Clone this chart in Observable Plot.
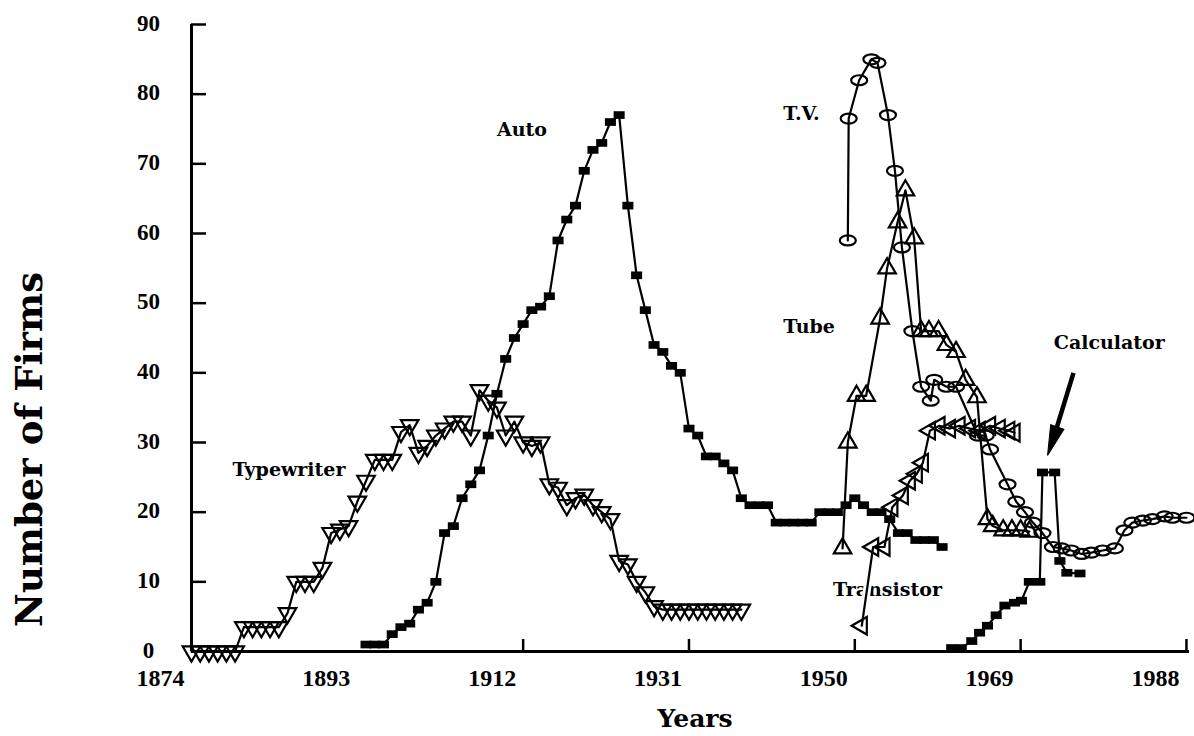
<!DOCTYPE html>
<html><head><meta charset="utf-8">
<script src="https://cdn.jsdelivr.net/npm/d3@7"></script>
<script src="https://cdn.jsdelivr.net/npm/@observablehq/plot@0.6"></script>
<style>
html,body{margin:0;padding:0;background:#fff;}
#chart{width:1194px;height:736px;}
</style>
</head><body><div id="chart"></div>
<script>
// ---------- data ----------
const typewriterYears = [1874,1875,1876,1877,1878,1879,1880,1881,1882,1883,1884,1885,1886,1887,1888,1889,1890,1891,1892,1893,1894,1895,1896,1897,1898,1899,1900,1901,1902,1903,1904,1905,1906,1907,1908,1909,1910,1911,1912,1913,1914,1915,1916,1917,1918,1919,1920,1921,1922,1923,1924,1925,1926,1927,1928,1929,1930,1931,1932,1933,1934,1935,1936,1937];
const typewriterFirms = [0,0,0,0,0,0,3.5,3.5,3.5,3.5,3.5,5.5,10,10,10,12,17,17.5,18,21.5,24.5,27.5,27.5,27.5,31.5,32.5,28.5,29.5,31,32,33,33,31,37.5,36,35,31,33,30,29.5,30,24,23.5,21,22,22.5,21,20,19,13,12.5,10,8.5,6.5,6,6,6,6,6,6,6,6,6,6];

const autoYears = [1894,1895,1896,1897,1898,1899,1900,1901,1902,1903,1904,1905,1906,1907,1908,1909,1910,1911,1912,1913,1914,1915,1916,1917,1918,1919,1920,1921,1922,1923,1924,1925,1926,1927,1928,1929,1930,1931,1932,1933,1934,1935,1936,1937,1938,1939,1940,1941,1942,1943,1944,1945,1946,1947,1948,1949,1950,1951,1952,1953,1954,1955,1956,1957,1958,1959,1960];
const autoFirms = [1,1,1,2.5,3.5,4,6,7,10,17,18,22,24,26,31,37,42,45,47,49,49.5,51,59,62,64,69,72,73,76,77,64,54,49,44,43,41,40,32,31,28,28,27,26,22,21,21,21,18.5,18.5,18.5,18.5,18.5,20,20,20,21,22,21,20,20,19,17,17,16,16,16,15];

const tvYears = [1949.2,1949.3,1950.5,1951.9,1952.6,1953.8,1954.6,1955.4,1956.6,1957.6,1958.7,1959.1,1960.5,1961.6,1964.1,1965.0,1965.5,1967.5,1968.5,1969.5,1970.4,1971.5,1972.7,1973.7,1974.8,1976.0,1977.1,1978.4,1979.8,1980.9,1981.8,1983.0,1984.1,1985.5,1986.4,1988.0];
const tvFirms = [59,76.5,82,85,84.5,77,69,58,46,38,36,39,38,38,31,31,29,24,21.5,20,18.5,17,15,14.8,14.5,14,14.2,14.5,14.8,17.4,18.5,18.8,19,19.4,19.2,19.2];

const tubeYears = [1948.6,1949.2,1950.2,1951.3,1952.9,1953.7,1954.9,1955.8,1956.8,1957.6,1958.5,1959.6,1960.5,1961.6,1962.7,1964.0,1965.2,1965.8,1967.0,1968.0,1969.0,1970.0];
const tubeFirms = [14.8,30,36.7,36.7,47.8,55,61.6,66.2,59.3,46,46,46,44,43,39,36.5,19,18,17.4,17.4,17.4,17.2];

const transistorYears = [1950.8,1952.1,1953.4,1954.3,1955.5,1956.3,1957.1,1957.8,1958.6,1959.7,1960.9,1962.0,1963.2,1964.3,1965.5,1966.6,1967.7,1968.3];
const transistorFirms = [3.7,15,15,20.7,22.4,24.5,25.5,27.1,31.7,32.4,32,32.4,32,31.7,32.4,32,31.7,31.4];

const calculatorYears = [1961.1,1962.2,1963.4,1964.3,1965.2,1966.2,1967.2,1968.3,1969.1,1970.0,1971.2,1971.5,1972.9,1973.5,1974.3,1975.8];
const calculatorFirms = [0.5,0.5,1.5,2.7,3.7,5.2,6.6,7,7.3,10,10,25.7,25.7,13,11.3,11.2];

const xTickLabels = [1874,1893,1912,1931,1950,1969,1988];
const xTickMarks = [1912,1931,1950,1969,1988];
const yTickLabels = [0,10,20,30,40,50,60,70,80,90];

const seriesNames = ["Typewriter","Auto","T.V.","Tube","Calculator","Transistor"];
const seriesNameYears = [1878.7,1909.0,1941.8,1941.8,1972.8,1947.5];
const seriesNameFirms = [26,74.8,77.2,46.6,44.3,8.8];

// calculator pointer: shaft start and arrow-head centre (year, firms)
const arrowStart = [1975.06, 40.0];
const arrowHead = [1972.83, 30.86];
const arrowAngle = 199;

// ---------- build ----------
const rows = (years, firms) => years.map((year, i) => ({year, firms: firms[i]}));
const typewriter = rows(typewriterYears, typewriterFirms);
const auto = rows(autoYears, autoFirms);
const tv = rows(tvYears, tvFirms);
const tube = rows(tubeYears, tubeFirms);
const transistor = rows(transistorYears, transistorFirms);
const calculator = rows(calculatorYears, calculatorFirms);
const labels = seriesNames.map((name, i) => ({name, year: seriesNameYears[i], firms: seriesNameFirms[i]}));

const k = 0.5523;
const rectSymbol = {draw(ctx, size) { const r = Math.sqrt(size / Math.PI); const w = 1.15 * r, h = 0.8 * r; ctx.moveTo(-w, -h); ctx.lineTo(w, -h); ctx.lineTo(w, h); ctx.lineTo(-w, h); ctx.closePath(); }};
const ellipseSymbol = {draw(ctx, size) { const r = Math.sqrt(size / Math.PI); const a = 1.6 * r, b = r;
  ctx.moveTo(a, 0);
  ctx.bezierCurveTo(a, b * k, a * k, b, 0, b);
  ctx.bezierCurveTo(-a * k, b, -a, b * k, -a, 0);
  ctx.bezierCurveTo(-a, -b * k, -a * k, -b, 0, -b);
  ctx.bezierCurveTo(a * k, -b, a, -b * k, a, 0);
  ctx.closePath(); }};
const headSymbol = {draw(ctx, size) { const r = Math.sqrt(size / Math.PI);
  ctx.moveTo(0, -2 * r); ctx.lineTo(0.7 * r, r); ctx.lineTo(-0.7 * r, r); ctx.closePath(); }};

const serif = "'DejaVu Serif', serif";
const numFont = "'Liberation Serif', 'Times New Roman', serif";
const LW = 2.2;

const chart = Plot.plot({
  width: 1194, height: 736,
  marginLeft: 191, marginRight: 5, marginTop: 24, marginBottom: 85,
  x: {domain: [1874, 1988.35], axis: null},
  y: {domain: [0, 90], axis: null},
  style: {background: "white", color: "black", fontFamily: serif, overflow: "visible"},
  marks: [
    Plot.text(labels, {x: "year", y: "firms", text: "name", textAnchor: "start", fontSize: 19, fontWeight: "bold", fontFamily: serif}),
    // axes
    Plot.ruleY([0], {x1: 1874, x2: 1988.35, strokeWidth: 3}),
    Plot.ruleX([1874], {y1: 0, y2: 90, strokeWidth: 3}),
    Plot.axisY({ticks: yTickLabels.filter(d => d > 0), anchor: "left", tickSize: -15, tickFormat: () => "", strokeWidth: 2.5}),
    Plot.axisX({ticks: xTickMarks, anchor: "bottom", tickSize: -12, tickFormat: () => "", strokeWidth: 2.5}),
    Plot.text(yTickLabels, {y: d => d, frameAnchor: "left", dx: -43, dy: 6, textAnchor: "middle", lineAnchor: "bottom", text: d => String(d), fontSize: 23, fontWeight: "bold", fontFamily: numFont}),
    Plot.text(xTickLabels, {x: d => d, frameAnchor: "bottom", dx: -31, dy: 27, lineAnchor: "middle", text: d => String(d), fontSize: 24, fontWeight: "bold", fontFamily: numFont}),
    Plot.text(["Years"], {x: 1931.7, frameAnchor: "bottom", dy: 75, text: d => d, fontSize: 25, fontWeight: "bold", fontFamily: serif}),
    Plot.text(["Number of Firms"], {y: 29, frameAnchor: "left", dx: -161, rotate: -90, textAnchor: "middle", text: d => d, fontSize: 37, fontWeight: "bold", fontFamily: serif}),
    // series lines
    Plot.line(typewriter, {x: "year", y: "firms", stroke: "black", strokeWidth: LW}),
    Plot.line(auto, {x: "year", y: "firms", stroke: "black", strokeWidth: LW}),
    Plot.line(tv, {x: "year", y: "firms", stroke: "black", strokeWidth: LW}),
    Plot.line(tube, {x: "year", y: "firms", stroke: "black", strokeWidth: LW}),
    Plot.line(transistor.slice(0, 2), {x: "year", y: "firms", stroke: "white", strokeWidth: 8}),
    Plot.line(transistor, {x: "year", y: "firms", stroke: "black", strokeWidth: LW}),
    Plot.line(calculator, {x: "year", y: "firms", stroke: "black", strokeWidth: LW}),
    // markers
    Plot.dot(typewriter, {x: "year", y: "firms", symbol: "triangle", rotate: 180, r: 6.5, stroke: "black", strokeWidth: 2.2, fill: "none"}),
    Plot.dot(auto, {x: "year", y: "firms", symbol: rectSymbol, r: 4.8, fill: "black", stroke: "none"}),
    Plot.dot(tv, {x: "year", y: "firms", symbol: ellipseSymbol, r: 5, stroke: "black", strokeWidth: 2.2, fill: "none"}),
    Plot.dot(tube, {x: "year", y: "firms", symbol: "triangle", r: 6.5, stroke: "black", strokeWidth: 2.2, fill: "none"}),
    Plot.dot(transistor, {x: "year", y: "firms", symbol: "triangle", rotate: -90, r: 6.5, stroke: "black", strokeWidth: 2.2, fill: "none"}),
    Plot.dot(calculator, {x: "year", y: "firms", symbol: rectSymbol, r: 4.8, fill: "black", stroke: "none"}),
    // calculator pointer
    Plot.link([{x1: arrowStart[0], y1: arrowStart[1], x2: arrowHead[0], y2: arrowHead[1]}], {x1: "x1", y1: "y1", x2: "x2", y2: "y2", stroke: "black", strokeWidth: 4.5}),
    Plot.dot([{x: arrowHead[0], y: arrowHead[1]}], {x: "x", y: "y", symbol: headSymbol, r: 10, rotate: arrowAngle, fill: "black", stroke: "black", strokeWidth: 1})
  ]
});
document.getElementById("chart").appendChild(chart);
</script>
</body></html>
